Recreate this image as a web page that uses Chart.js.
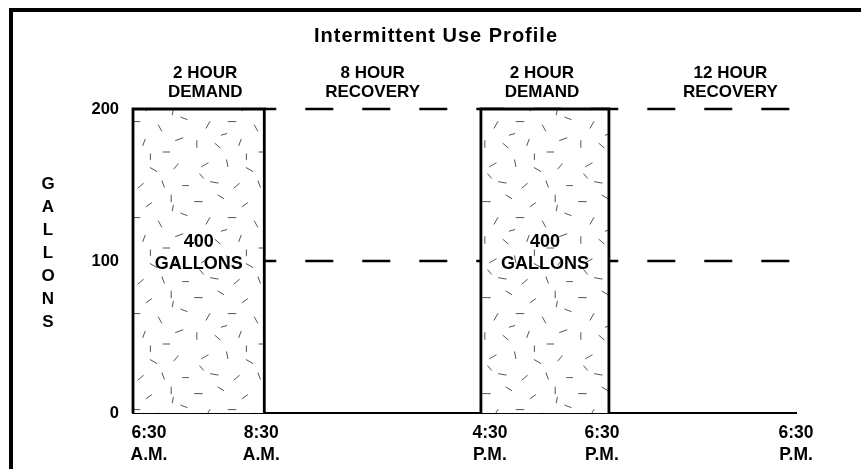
<!DOCTYPE html>
<html>
<head>
<meta charset="utf-8">
<script src="https://cdn.jsdelivr.net/npm/chart.js@4.4.1/dist/chart.umd.min.js"></script>
<style>
  html, body { margin: 0; padding: 0; background: #fff; }
  #wrap { width: 861px; height: 469px; position: relative; }
</style>
</head>
<body>
<div id="wrap"><canvas id="c" width="861" height="469"></canvas></div>
<script>
// ---------------- data ----------------
const chartTitle = 'Intermittent Use Profile';
const yAxisTitle = 'GALLONS';
const yTicks = [0, 100, 200];
// schematic position of each clock time along the drawing's time axis
const timeAxis = [0, 2, 5.3, 7.25, 10.1];
const timeLabels = [['6:30', 'A.M.'], ['8:30', 'A.M.'], ['4:30', 'P.M.'], ['6:30', 'P.M.'], ['6:30', 'P.M.']];
const periodLabels = [['2 HOUR', 'DEMAND'], ['8 HOUR', 'RECOVERY'], ['2 HOUR', 'DEMAND'], ['12 HOUR', 'RECOVERY']];
const demandPeriods = [[0, 1], [2, 3]];          // indexes into timeAxis
const demandRate = 200;                           // gallons
const demandVolume = ['400', 'GALLONS'];
const recoveryLevels = [200, 100];               // gallons

// ---------------- texture ----------------
const FONT = "'Liberation Sans', Arial, Helvetica, sans-serif";
function speckle() {
  const S = 1.6, N = Math.round(60 * S);
  const t = document.createElement('canvas');
  t.width = N; t.height = N;
  const g = t.getContext('2d');
  g.fillStyle = '#fff'; g.fillRect(0, 0, N, N);
  const segs = [[4,6,0,7],[18,3,30,6],[33,8,-35,6],[47,4,90,6],[55,14,20,6],
    [10,18,-60,7],[25,16,0,7],[40,20,60,6],[52,27,-20,7],[3,30,90,6],
    [16,31,40,6],[30,29,-70,6],[44,35,0,6],[8,43,-30,7],[22,42,80,6],
    [36,46,30,7],[50,44,-50,6],[14,54,10,7],[28,56,-40,6],[42,55,70,6],[56,56,0,5],
    [6,50,50,5],[20,24,-15,5],[34,38,90,5],[48,10,-80,5]];
  g.strokeStyle = '#555'; g.lineWidth = 1;
  segs.forEach(([x, y, a, l]) => {
    const r = a * Math.PI / 180, L = l + 1.5, dx = Math.cos(r) * L / 2, dy = Math.sin(r) * L / 2;
    g.beginPath(); g.moveTo(x * S - dx, y * S - dy); g.lineTo(x * S + dx, y * S + dy); g.stroke();
  });
  return g.createPattern(t, 'repeat');
}
const pattern = speckle();

// ---------------- datasets ----------------
const datasets = [];
demandPeriods.forEach(([a, b]) => {
  const x0 = timeAxis[a], x1 = timeAxis[b];
  datasets.push({
    data: [{x: x0, y: 0}, {x: x0, y: demandRate}, {x: x1, y: demandRate}, {x: x1, y: 0}],
    borderColor: '#000', borderWidth: 2.8, backgroundColor: pattern,
    fill: 'origin', pointRadius: 0, tension: 0, order: 1, clip: false
  });
});
recoveryLevels.forEach(v => {
  datasets.push({
    data: [{x: timeAxis[1], y: v}, {x: timeAxis[timeAxis.length - 1], y: v}],
    borderColor: '#000', borderWidth: 2.5, borderDash: [28, 29], borderDashOffset: 16,
    fill: false, pointRadius: 0, order: 2, clip: false
  });
});

// ---------------- annotation plugin ----------------
const decor = {
  id: 'decor',
  afterDraw(chart, args, o) {
    const ctx = chart.ctx, xs = chart.scales.x, ys = chart.scales.y;
    ctx.save();
    // frame
    ctx.strokeStyle = '#000'; ctx.lineWidth = 4;
    ctx.beginPath(); ctx.moveTo(11, 469); ctx.lineTo(11, 10); ctx.lineTo(861, 10); ctx.stroke();
    ctx.fillStyle = '#000';
    ctx.textAlign = 'center'; ctx.textBaseline = 'middle';
    // title
    ctx.font = 'bold 20px ' + FONT;
    if ('letterSpacing' in ctx) ctx.letterSpacing = '1px';
    ctx.fillText(chartTitle, 436, 36);
    if ('letterSpacing' in ctx) ctx.letterSpacing = '0px';
    // period headers
    ctx.font = 'bold 17px ' + FONT;
    periodLabels.forEach((l, i) => {
      const x = xs.getPixelForValue(o.headerAt[i]);
      ctx.fillText(l[0], x, 73);
      ctx.fillText(l[1], x, 92);
    });
    // time labels
    ctx.font = 'bold 17.5px ' + FONT;
    timeLabels.forEach((l, i) => {
      const x = xs.getPixelForValue(timeAxis[i]) + o.timeNudge[i];
      ctx.fillText(l[0], x, 433);
      ctx.fillText(l[1], x, 455);
    });
    // vertical axis title
    ctx.font = 'bold 17px ' + FONT;
    [...yAxisTitle].forEach((ch, i) => ctx.fillText(ch, 48, 184 + i * 23));
    // volume inside demand blocks
    ctx.font = 'bold 18px ' + FONT;
    const ymid = ys.getPixelForValue(demandRate / 2);
    demandPeriods.forEach(([a, b]) => {
      const x = (xs.getPixelForValue(timeAxis[a]) + xs.getPixelForValue(timeAxis[b])) / 2;
      ctx.fillText(demandVolume[0], x, ymid - 19);
      ctx.fillText(demandVolume[1], x, ymid + 3);
    });
    ctx.restore();
  }
};

new Chart(document.getElementById('c'), {
  type: 'line',
  data: { datasets },
  plugins: [decor],
  options: {
    responsive: false, animation: false,
    layout: { padding: { top: 109, right: 65, left: 0, bottom: 0 } },
    plugins: {
      legend: { display: false }, tooltip: { enabled: false }, title: { display: false },
      decor: { headerAt: [1.1, 3.65, 6.23, 9.1], timeNudge: [16, -3, 9, -7, 0] }
    },
    scales: {
      x: {
        type: 'linear', min: timeAxis[0], max: timeAxis[timeAxis.length - 1],
        grid: { display: false, drawTicks: false },
        border: { display: true, color: '#000', width: 2 },
        ticks: { display: false },
        afterFit: s => { s.height = 56; }
      },
      y: {
        type: 'linear', min: yTicks[0], max: yTicks[yTicks.length - 1],
        afterBuildTicks: s => { s.ticks = yTicks.map(v => ({ value: v })); },
        grid: { display: false, drawTicks: false },
        border: { display: false },
        ticks: { color: '#000', padding: 14, font: { family: FONT, size: 16.5, weight: 'bold' } },
        afterFit: s => { s.width = 133; }
      }
    }
  }
});
</script>
</body>
</html>
